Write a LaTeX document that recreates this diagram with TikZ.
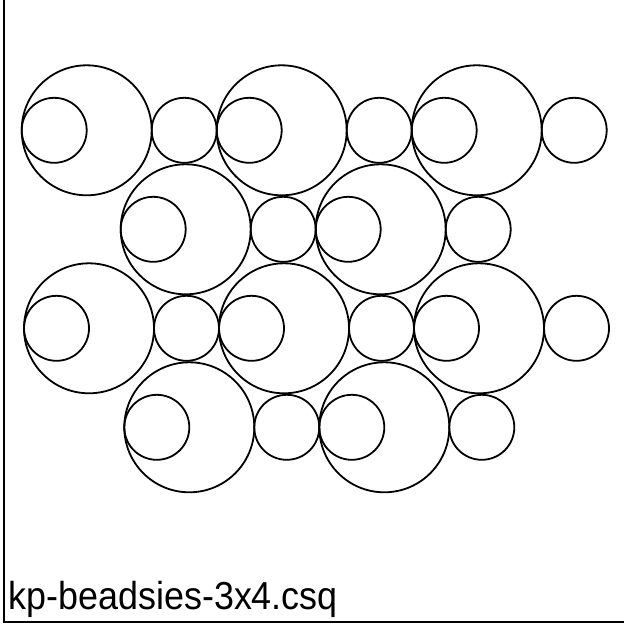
\documentclass[tikz,border=0pt]{standalone}
\usepackage{fontspec}
\setmainfont{Liberation Sans}
\begin{document}
\begin{tikzpicture}[x=1pt,y=-1pt,
  ring/.style={draw=black,line width=1.8pt},
  frameline/.style={draw=black,line width=2pt},
  caption/.style={inner sep=0pt,anchor=base west,xscale=0.92,font=\fontsize{39}{41}\selectfont}]
\useasboundingbox (0,0) rectangle (624,625);
% bead: big circle with inner circle tangent on the left, plus small spacer circle to its right
\newcommand{\beadunit}[2]{%
  \draw[ring] (#1,#2) circle[radius=65];
  \draw[ring] (#1-32.5,#2) circle[radius=32.5];
  \draw[ring] (#1+97.5,#2) circle[radius=32.5];
}
\foreach \x in {86.7,281.7,476.7} {\beadunit{\x}{130.3}}
\foreach \x in {185.7,380.7} {\beadunit{\x}{229.3}}
\foreach \x in {89,284,479} {\beadunit{\x}{328.3}}
\foreach \x in {189.3,384.3} {\beadunit{\x}{427.3}}
\draw[frameline] (4,-2) -- (4,621.5) -- (626,621.5);
\node[caption] (title) at (8.5,609.5) {kp-beadsies-3x4.csq};
\end{tikzpicture}
\end{document}
